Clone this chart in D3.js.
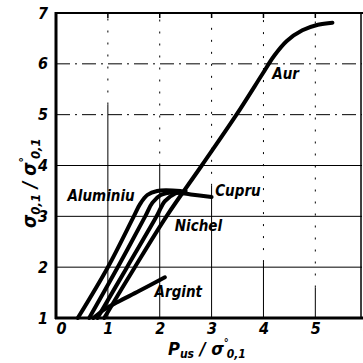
<!DOCTYPE html>
<html>
<head>
<meta charset="utf-8">
<script src="https://cdn.jsdelivr.net/npm/d3@7"></script>
<style>
  body { margin: 0; background: #fff; }
  text { font-family: "DejaVu Sans Condensed", "Liberation Sans Narrow", sans-serif; font-weight: bold; font-style: italic; fill: #000; }
</style>
</head>
<body>
<svg id="chart" width="363" height="363"></svg>
<script>
// values
const xTicks = [0, 1, 2, 3, 4, 5, 6];
const yTicks = [1, 2, 3, 4, 5, 6, 7];

const aluminiu = [[0.42, 1], [1.0, 2], [1.5, 3], [1.62, 3.24], [1.76, 3.42], [1.95, 3.5], [2.4, 3.5]];
const cupru = [[0.64, 1], [1.19, 2], [1.72, 3], [1.86, 3.27], [2.02, 3.42], [2.25, 3.47], [2.6, 3.43], [3.0, 3.38]];
const nichel = [[0.8, 1], [1.37, 2], [1.94, 3], [2.1, 3.3], [2.3, 3.45], [2.5, 3.5]];
const aur = [[0.93, 1], [1.52, 2], [2.13, 3], [2.81, 4], [3.48, 5], [3.98, 5.8], [4.2, 6.15], [4.45, 6.45], [4.75, 6.66], [5.05, 6.77], [5.33, 6.81]];
const argint = [[0.72, 1], [0.95, 1.18], [1.2, 1.32], [1.6, 1.53], [2.1, 1.8]];

const labels = [
  {name: 'Aluminiu', x: 0.22, y: 3.3},
  {name: 'Cupru', x: 3.07, y: 3.4},
  {name: 'Nichel', x: 2.29, y: 2.72},
  {name: 'Argint', x: 1.9, y: 1.42},
  {name: 'Aur', x: 4.17, y: 5.7}
];

const svg = d3.select('#chart');
const x = d3.scaleLinear().domain([0, 5.9]).range([56, 362]);
const y = d3.scaleLinear().domain([1, 7]).range([318, 13]);

// grid
const grid = svg.append('g').attr('stroke', '#000').attr('stroke-width', 1).attr('fill', 'none');
[2, 3, 4].forEach(v => {
  grid.append('line').attr('x1', x(0)).attr('x2', x(5.9)).attr('y1', y(v)).attr('y2', y(v));
});
[5, 6].forEach(v => {
  grid.append('line').attr('x1', x(0)).attr('x2', x(5.9)).attr('y1', y(v)).attr('y2', y(v))
    .attr('stroke-dasharray', '14,5,2,5');
});
const vSolid = {1: 5.2, 2: 4, 3: 3.6, 4: 2.1, 5: 1.6};
[1, 2, 3, 4, 5].forEach(v => {
  grid.append('line').attr('x1', x(v)).attr('x2', x(v)).attr('y1', y(1)).attr('y2', y(vSolid[v]));
  grid.append('line').attr('x1', x(v)).attr('x2', x(v)).attr('y1', y(vSolid[v])).attr('y2', y(7))
    .attr('stroke-dasharray', '2,10');
});

// axes
const xAxis = d3.axisBottom(x).tickValues(xTicks).tickSize(0).tickPadding(5).tickFormat(d3.format('d'));
const yAxis = d3.axisLeft(y).tickValues(yTicks).tickSize(0).tickPadding(8).tickFormat(d3.format('d'));
const gx = svg.append('g').attr('transform', `translate(0,${y(1)})`).call(xAxis);
const gy = svg.append('g').attr('transform', `translate(${x(0)},0)`).call(yAxis);
[gx, gy].forEach(g => {
  g.select('.domain').remove();
  g.selectAll('text').style('font-size', '16px').attr('fill', '#000');
});
gx.selectAll('.tick').filter(d => d === 0).select('text').attr('dx', 5);

// frame
svg.append('line').attr('x1', x(0)).attr('x2', x(0)).attr('y1', y(1) + 1).attr('y2', y(7) - 1)
  .attr('stroke', '#000').attr('stroke-width', 3);
svg.append('line').attr('x1', x(0) - 1).attr('x2', 363).attr('y1', y(1)).attr('y2', y(1))
  .attr('stroke', '#000').attr('stroke-width', 3);
svg.append('line').attr('x1', x(0)).attr('x2', 363).attr('y1', y(7)).attr('y2', y(7))
  .attr('stroke', '#000').attr('stroke-width', 2);
svg.append('line').attr('x1', 361).attr('x2', 361).attr('y1', y(7)).attr('y2', y(1))
  .attr('stroke', '#000').attr('stroke-width', 1.5);
[1, 2, 3, 4, 5].forEach(v => {
  svg.append('line').attr('x1', x(v)).attr('x2', x(v)).attr('y1', y(7)).attr('y2', y(7) + 5)
    .attr('stroke', '#000').attr('stroke-width', 1.5);
});

// curves
const line = d3.line().x(d => x(d[0])).y(d => y(d[1])).curve(d3.curveCatmullRom.alpha(0.5));
[aluminiu, cupru, nichel, aur, argint].forEach(s => {
  svg.append('path').datum(s).attr('d', line)
    .attr('fill', 'none').attr('stroke', '#000').attr('stroke-width', 4)
    .attr('stroke-linecap', 'round').attr('stroke-linejoin', 'round');
});

// curve labels
svg.selectAll('.lbl').data(labels).join('text').attr('class', 'lbl')
  .attr('x', d => x(d.x)).attr('y', d => y(d.y))
  .style('font-size', '15px')
  .text(d => d.name);

// axis titles
const xt = svg.append('text').attr('x', 168).attr('y', 355).style('font-size', '18px');
xt.append('tspan').text('P');
xt.append('tspan').attr('dy', 3).style('font-size', '12px').text('us');
xt.append('tspan').attr('dy', -3).text(' / σ');
xt.append('tspan').attr('dy', -9).style('font-size', '11px').text('°');
xt.append('tspan').attr('dy', 12).attr('dx', -2).style('font-size', '12px').text('0,1');

const yt = svg.append('text').attr('transform', 'translate(36,228) rotate(-90)').style('font-size', '19px');
yt.append('tspan').text('σ');
yt.append('tspan').attr('dy', 4).style('font-size', '13px').text('0,1');
yt.append('tspan').attr('dy', -4).text(' / σ');
yt.append('tspan').attr('dy', -8).style('font-size', '12px').text('°');
yt.append('tspan').attr('dy', 12).attr('dx', -2).style('font-size', '13px').text('0,1');
</script>
</body>
</html>
